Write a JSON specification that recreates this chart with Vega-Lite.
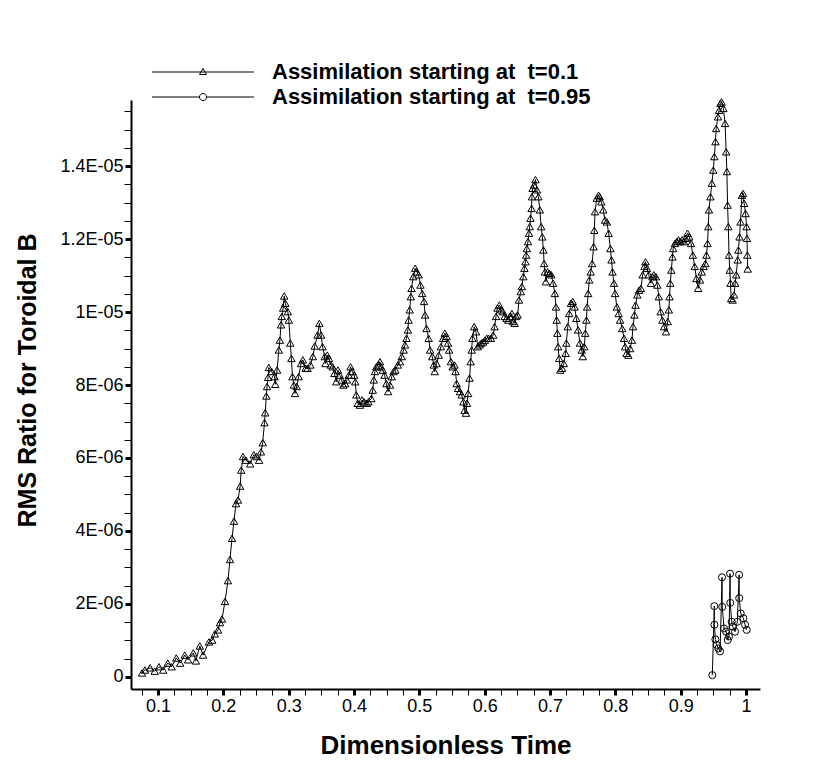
{
  "$schema": "https://vega.github.io/schema/vega-lite/v6.json",
  "width": 629,
  "height": 589,
  "autosize": {"type": "none"},
  "padding": {"left": 131, "top": 100, "right": 74, "bottom": 79},
  "background": "white",
  "config": {"view": {"stroke": null}, "font": "Liberation Sans"},
  "data": {
    "values": [
      {"t": 0.0755, "rms": 0.11e-6, "run": "0.1"},
      {"t": 0.0800, "rms": 0.19e-6, "run": "0.1"},
      {"t": 0.0880, "rms": 0.25e-6, "run": "0.1"},
      {"t": 0.0950, "rms": 0.16e-6, "run": "0.1"},
      {"t": 0.1015, "rms": 0.28e-6, "run": "0.1"},
      {"t": 0.1080, "rms": 0.19e-6, "run": "0.1"},
      {"t": 0.1150, "rms": 0.38e-6, "run": "0.1"},
      {"t": 0.1210, "rms": 0.28e-6, "run": "0.1"},
      {"t": 0.1280, "rms": 0.52e-6, "run": "0.1"},
      {"t": 0.1340, "rms": 0.38e-6, "run": "0.1"},
      {"t": 0.1410, "rms": 0.60e-6, "run": "0.1"},
      {"t": 0.1460, "rms": 0.47e-6, "run": "0.1"},
      {"t": 0.1540, "rms": 0.66e-6, "run": "0.1"},
      {"t": 0.1580, "rms": 0.44e-6, "run": "0.1"},
      {"t": 0.1640, "rms": 0.85e-6, "run": "0.1"},
      {"t": 0.1690, "rms": 0.60e-6, "run": "0.1"},
      {"t": 0.1780, "rms": 0.96e-6, "run": "0.1"},
      {"t": 0.1830, "rms": 1.01e-6, "run": "0.1"},
      {"t": 0.1870, "rms": 1.18e-6, "run": "0.1"},
      {"t": 0.1920, "rms": 1.29e-6, "run": "0.1"},
      {"t": 0.1950, "rms": 1.49e-6, "run": "0.1"},
      {"t": 0.1980, "rms": 1.59e-6, "run": "0.1"},
      {"t": 0.2026, "rms": 2.07e-6, "run": "0.1"},
      {"t": 0.2071, "rms": 2.64e-6, "run": "0.1"},
      {"t": 0.2102, "rms": 3.22e-6, "run": "0.1"},
      {"t": 0.2133, "rms": 3.80e-6, "run": "0.1"},
      {"t": 0.2163, "rms": 4.27e-6, "run": "0.1"},
      {"t": 0.2194, "rms": 4.75e-6, "run": "0.1"},
      {"t": 0.2225, "rms": 4.85e-6, "run": "0.1"},
      {"t": 0.2257, "rms": 5.23e-6, "run": "0.1"},
      {"t": 0.2274, "rms": 5.67e-6, "run": "0.1"},
      {"t": 0.2301, "rms": 6.04e-6, "run": "0.1"},
      {"t": 0.2345, "rms": 5.94e-6, "run": "0.1"},
      {"t": 0.2411, "rms": 5.84e-6, "run": "0.1"},
      {"t": 0.2466, "rms": 6.09e-6, "run": "0.1"},
      {"t": 0.2510, "rms": 6.04e-6, "run": "0.1"},
      {"t": 0.2548, "rms": 5.94e-6, "run": "0.1"},
      {"t": 0.2576, "rms": 6.17e-6, "run": "0.1"},
      {"t": 0.2603, "rms": 6.42e-6, "run": "0.1"},
      {"t": 0.2630, "rms": 6.97e-6, "run": "0.1"},
      {"t": 0.2641, "rms": 7.24e-6, "run": "0.1"},
      {"t": 0.2658, "rms": 7.70e-6, "run": "0.1"},
      {"t": 0.2669, "rms": 7.96e-6, "run": "0.1"},
      {"t": 0.2685, "rms": 8.21e-6, "run": "0.1"},
      {"t": 0.2696, "rms": 8.48e-6, "run": "0.1"},
      {"t": 0.2740, "rms": 8.37e-6, "run": "0.1"},
      {"t": 0.2784, "rms": 8.23e-6, "run": "0.1"},
      {"t": 0.2795, "rms": 8.02e-6, "run": "0.1"},
      {"t": 0.2823, "rms": 8.41e-6, "run": "0.1"},
      {"t": 0.2850, "rms": 8.96e-6, "run": "0.1"},
      {"t": 0.2866, "rms": 9.23e-6, "run": "0.1"},
      {"t": 0.2883, "rms": 9.65e-6, "run": "0.1"},
      {"t": 0.2894, "rms": 9.88e-6, "run": "0.1"},
      {"t": 0.2916, "rms": 10.11e-6, "run": "0.1"},
      {"t": 0.2932, "rms": 10.44e-6, "run": "0.1"},
      {"t": 0.2949, "rms": 10.24e-6, "run": "0.1"},
      {"t": 0.2987, "rms": 10.01e-6, "run": "0.1"},
      {"t": 0.3003, "rms": 9.78e-6, "run": "0.1"},
      {"t": 0.3025, "rms": 9.15e-6, "run": "0.1"},
      {"t": 0.3042, "rms": 8.73e-6, "run": "0.1"},
      {"t": 0.3058, "rms": 8.23e-6, "run": "0.1"},
      {"t": 0.3080, "rms": 8.00e-6, "run": "0.1"},
      {"t": 0.3097, "rms": 7.77e-6, "run": "0.1"},
      {"t": 0.3124, "rms": 7.96e-6, "run": "0.1"},
      {"t": 0.3152, "rms": 8.23e-6, "run": "0.1"},
      {"t": 0.3190, "rms": 8.59e-6, "run": "0.1"},
      {"t": 0.3217, "rms": 8.69e-6, "run": "0.1"},
      {"t": 0.3261, "rms": 8.46e-6, "run": "0.1"},
      {"t": 0.3289, "rms": 8.46e-6, "run": "0.1"},
      {"t": 0.3333, "rms": 8.55e-6, "run": "0.1"},
      {"t": 0.3371, "rms": 8.78e-6, "run": "0.1"},
      {"t": 0.3399, "rms": 9.07e-6, "run": "0.1"},
      {"t": 0.3442, "rms": 9.37e-6, "run": "0.1"},
      {"t": 0.3470, "rms": 9.69e-6, "run": "0.1"},
      {"t": 0.3497, "rms": 9.37e-6, "run": "0.1"},
      {"t": 0.3519, "rms": 9.05e-6, "run": "0.1"},
      {"t": 0.3552, "rms": 8.78e-6, "run": "0.1"},
      {"t": 0.3563, "rms": 8.59e-6, "run": "0.1"},
      {"t": 0.3591, "rms": 8.82e-6, "run": "0.1"},
      {"t": 0.3618, "rms": 8.73e-6, "run": "0.1"},
      {"t": 0.3645, "rms": 8.55e-6, "run": "0.1"},
      {"t": 0.3673, "rms": 8.50e-6, "run": "0.1"},
      {"t": 0.3700, "rms": 8.32e-6, "run": "0.1"},
      {"t": 0.3728, "rms": 8.09e-6, "run": "0.1"},
      {"t": 0.3755, "rms": 8.41e-6, "run": "0.1"},
      {"t": 0.3783, "rms": 8.27e-6, "run": "0.1"},
      {"t": 0.3810, "rms": 8.14e-6, "run": "0.1"},
      {"t": 0.3837, "rms": 8.00e-6, "run": "0.1"},
      {"t": 0.3865, "rms": 8.04e-6, "run": "0.1"},
      {"t": 0.3892, "rms": 8.14e-6, "run": "0.1"},
      {"t": 0.3920, "rms": 8.27e-6, "run": "0.1"},
      {"t": 0.3947, "rms": 8.50e-6, "run": "0.1"},
      {"t": 0.3975, "rms": 8.37e-6, "run": "0.1"},
      {"t": 0.4002, "rms": 8.27e-6, "run": "0.1"},
      {"t": 0.4019, "rms": 8.09e-6, "run": "0.1"},
      {"t": 0.4035, "rms": 7.73e-6, "run": "0.1"},
      {"t": 0.4057, "rms": 7.50e-6, "run": "0.1"},
      {"t": 0.4090, "rms": 7.45e-6, "run": "0.1"},
      {"t": 0.4123, "rms": 7.59e-6, "run": "0.1"},
      {"t": 0.4156, "rms": 7.54e-6, "run": "0.1"},
      {"t": 0.4194, "rms": 7.50e-6, "run": "0.1"},
      {"t": 0.4221, "rms": 7.54e-6, "run": "0.1"},
      {"t": 0.4265, "rms": 7.63e-6, "run": "0.1"},
      {"t": 0.4287, "rms": 7.86e-6, "run": "0.1"},
      {"t": 0.4304, "rms": 8.14e-6, "run": "0.1"},
      {"t": 0.4320, "rms": 8.37e-6, "run": "0.1"},
      {"t": 0.4342, "rms": 8.50e-6, "run": "0.1"},
      {"t": 0.4370, "rms": 8.55e-6, "run": "0.1"},
      {"t": 0.4397, "rms": 8.64e-6, "run": "0.1"},
      {"t": 0.4413, "rms": 8.50e-6, "run": "0.1"},
      {"t": 0.4441, "rms": 8.41e-6, "run": "0.1"},
      {"t": 0.4468, "rms": 8.27e-6, "run": "0.1"},
      {"t": 0.4496, "rms": 8.04e-6, "run": "0.1"},
      {"t": 0.4523, "rms": 7.82e-6, "run": "0.1"},
      {"t": 0.4551, "rms": 8.00e-6, "run": "0.1"},
      {"t": 0.4578, "rms": 8.23e-6, "run": "0.1"},
      {"t": 0.4605, "rms": 8.37e-6, "run": "0.1"},
      {"t": 0.4633, "rms": 8.41e-6, "run": "0.1"},
      {"t": 0.4671, "rms": 8.55e-6, "run": "0.1"},
      {"t": 0.4704, "rms": 8.64e-6, "run": "0.1"},
      {"t": 0.4731, "rms": 8.78e-6, "run": "0.1"},
      {"t": 0.4759, "rms": 8.96e-6, "run": "0.1"},
      {"t": 0.4781, "rms": 9.10e-6, "run": "0.1"},
      {"t": 0.4803, "rms": 9.28e-6, "run": "0.1"},
      {"t": 0.4825, "rms": 9.51e-6, "run": "0.1"},
      {"t": 0.4836, "rms": 9.78e-6, "run": "0.1"},
      {"t": 0.4852, "rms": 10.06e-6, "run": "0.1"},
      {"t": 0.4869, "rms": 10.42e-6, "run": "0.1"},
      {"t": 0.4880, "rms": 10.65e-6, "run": "0.1"},
      {"t": 0.4907, "rms": 10.97e-6, "run": "0.1"},
      {"t": 0.4935, "rms": 11.20e-6, "run": "0.1"},
      {"t": 0.4962, "rms": 11.10e-6, "run": "0.1"},
      {"t": 0.4989, "rms": 11.02e-6, "run": "0.1"},
      {"t": 0.5017, "rms": 10.74e-6, "run": "0.1"},
      {"t": 0.5044, "rms": 10.51e-6, "run": "0.1"},
      {"t": 0.5072, "rms": 10.29e-6, "run": "0.1"},
      {"t": 0.5088, "rms": 9.92e-6, "run": "0.1"},
      {"t": 0.5110, "rms": 9.55e-6, "run": "0.1"},
      {"t": 0.5143, "rms": 9.28e-6, "run": "0.1"},
      {"t": 0.5165, "rms": 8.96e-6, "run": "0.1"},
      {"t": 0.5198, "rms": 8.78e-6, "run": "0.1"},
      {"t": 0.5220, "rms": 8.55e-6, "run": "0.1"},
      {"t": 0.5236, "rms": 8.37e-6, "run": "0.1"},
      {"t": 0.5264, "rms": 8.59e-6, "run": "0.1"},
      {"t": 0.5297, "rms": 8.82e-6, "run": "0.1"},
      {"t": 0.5330, "rms": 9.05e-6, "run": "0.1"},
      {"t": 0.5363, "rms": 9.28e-6, "run": "0.1"},
      {"t": 0.5390, "rms": 9.42e-6, "run": "0.1"},
      {"t": 0.5417, "rms": 9.33e-6, "run": "0.1"},
      {"t": 0.5439, "rms": 9.15e-6, "run": "0.1"},
      {"t": 0.5456, "rms": 8.96e-6, "run": "0.1"},
      {"t": 0.5483, "rms": 8.64e-6, "run": "0.1"},
      {"t": 0.5510, "rms": 8.50e-6, "run": "0.1"},
      {"t": 0.5538, "rms": 8.55e-6, "run": "0.1"},
      {"t": 0.5554, "rms": 8.37e-6, "run": "0.1"},
      {"t": 0.5571, "rms": 8.04e-6, "run": "0.1"},
      {"t": 0.5593, "rms": 7.91e-6, "run": "0.1"},
      {"t": 0.5620, "rms": 7.82e-6, "run": "0.1"},
      {"t": 0.5648, "rms": 7.73e-6, "run": "0.1"},
      {"t": 0.5675, "rms": 7.54e-6, "run": "0.1"},
      {"t": 0.5692, "rms": 7.31e-6, "run": "0.1"},
      {"t": 0.5714, "rms": 7.23e-6, "run": "0.1"},
      {"t": 0.5730, "rms": 7.50e-6, "run": "0.1"},
      {"t": 0.5747, "rms": 7.77e-6, "run": "0.1"},
      {"t": 0.5769, "rms": 8.19e-6, "run": "0.1"},
      {"t": 0.5785, "rms": 8.64e-6, "run": "0.1"},
      {"t": 0.5801, "rms": 8.96e-6, "run": "0.1"},
      {"t": 0.5812, "rms": 9.28e-6, "run": "0.1"},
      {"t": 0.5840, "rms": 9.60e-6, "run": "0.1"},
      {"t": 0.5867, "rms": 9.46e-6, "run": "0.1"},
      {"t": 0.5894, "rms": 9.05e-6, "run": "0.1"},
      {"t": 0.5922, "rms": 9.10e-6, "run": "0.1"},
      {"t": 0.5949, "rms": 9.15e-6, "run": "0.1"},
      {"t": 0.5977, "rms": 9.18e-6, "run": "0.1"},
      {"t": 0.6004, "rms": 9.23e-6, "run": "0.1"},
      {"t": 0.6032, "rms": 9.28e-6, "run": "0.1"},
      {"t": 0.6059, "rms": 9.28e-6, "run": "0.1"},
      {"t": 0.6097, "rms": 9.28e-6, "run": "0.1"},
      {"t": 0.6130, "rms": 9.37e-6, "run": "0.1"},
      {"t": 0.6152, "rms": 9.60e-6, "run": "0.1"},
      {"t": 0.6174, "rms": 9.88e-6, "run": "0.1"},
      {"t": 0.6196, "rms": 10.11e-6, "run": "0.1"},
      {"t": 0.6224, "rms": 10.19e-6, "run": "0.1"},
      {"t": 0.6251, "rms": 10.06e-6, "run": "0.1"},
      {"t": 0.6279, "rms": 10.01e-6, "run": "0.1"},
      {"t": 0.6306, "rms": 9.88e-6, "run": "0.1"},
      {"t": 0.6334, "rms": 9.83e-6, "run": "0.1"},
      {"t": 0.6361, "rms": 9.78e-6, "run": "0.1"},
      {"t": 0.6388, "rms": 9.88e-6, "run": "0.1"},
      {"t": 0.6416, "rms": 9.96e-6, "run": "0.1"},
      {"t": 0.6432, "rms": 9.74e-6, "run": "0.1"},
      {"t": 0.6460, "rms": 9.69e-6, "run": "0.1"},
      {"t": 0.6482, "rms": 9.88e-6, "run": "0.1"},
      {"t": 0.6504, "rms": 9.92e-6, "run": "0.1"},
      {"t": 0.6526, "rms": 10.33e-6, "run": "0.1"},
      {"t": 0.6553, "rms": 10.56e-6, "run": "0.1"},
      {"t": 0.6569, "rms": 10.70e-6, "run": "0.1"},
      {"t": 0.6591, "rms": 10.97e-6, "run": "0.1"},
      {"t": 0.6608, "rms": 11.20e-6, "run": "0.1"},
      {"t": 0.6624, "rms": 11.38e-6, "run": "0.1"},
      {"t": 0.6635, "rms": 11.56e-6, "run": "0.1"},
      {"t": 0.6646, "rms": 11.74e-6, "run": "0.1"},
      {"t": 0.6663, "rms": 11.93e-6, "run": "0.1"},
      {"t": 0.6679, "rms": 12.16e-6, "run": "0.1"},
      {"t": 0.6690, "rms": 12.34e-6, "run": "0.1"},
      {"t": 0.6701, "rms": 12.57e-6, "run": "0.1"},
      {"t": 0.6718, "rms": 12.84e-6, "run": "0.1"},
      {"t": 0.6723, "rms": 13.16e-6, "run": "0.1"},
      {"t": 0.6734, "rms": 13.39e-6, "run": "0.1"},
      {"t": 0.6756, "rms": 13.48e-6, "run": "0.1"},
      {"t": 0.6778, "rms": 13.63e-6, "run": "0.1"},
      {"t": 0.6800, "rms": 13.35e-6, "run": "0.1"},
      {"t": 0.6822, "rms": 13.16e-6, "run": "0.1"},
      {"t": 0.6844, "rms": 12.80e-6, "run": "0.1"},
      {"t": 0.6865, "rms": 12.34e-6, "run": "0.1"},
      {"t": 0.6882, "rms": 12.06e-6, "run": "0.1"},
      {"t": 0.6899, "rms": 11.70e-6, "run": "0.1"},
      {"t": 0.6910, "rms": 11.33e-6, "run": "0.1"},
      {"t": 0.6921, "rms": 11.10e-6, "run": "0.1"},
      {"t": 0.6937, "rms": 10.83e-6, "run": "0.1"},
      {"t": 0.6965, "rms": 11.10e-6, "run": "0.1"},
      {"t": 0.6992, "rms": 11.06e-6, "run": "0.1"},
      {"t": 0.7020, "rms": 11.02e-6, "run": "0.1"},
      {"t": 0.7047, "rms": 10.79e-6, "run": "0.1"},
      {"t": 0.7074, "rms": 10.51e-6, "run": "0.1"},
      {"t": 0.7091, "rms": 10.14e-6, "run": "0.1"},
      {"t": 0.7102, "rms": 9.78e-6, "run": "0.1"},
      {"t": 0.7113, "rms": 9.42e-6, "run": "0.1"},
      {"t": 0.7124, "rms": 9.05e-6, "run": "0.1"},
      {"t": 0.7140, "rms": 8.73e-6, "run": "0.1"},
      {"t": 0.7157, "rms": 8.41e-6, "run": "0.1"},
      {"t": 0.7184, "rms": 8.46e-6, "run": "0.1"},
      {"t": 0.7211, "rms": 8.59e-6, "run": "0.1"},
      {"t": 0.7239, "rms": 8.87e-6, "run": "0.1"},
      {"t": 0.7250, "rms": 9.15e-6, "run": "0.1"},
      {"t": 0.7272, "rms": 9.60e-6, "run": "0.1"},
      {"t": 0.7294, "rms": 9.96e-6, "run": "0.1"},
      {"t": 0.7321, "rms": 10.24e-6, "run": "0.1"},
      {"t": 0.7348, "rms": 10.29e-6, "run": "0.1"},
      {"t": 0.7376, "rms": 10.14e-6, "run": "0.1"},
      {"t": 0.7403, "rms": 9.83e-6, "run": "0.1"},
      {"t": 0.7430, "rms": 9.51e-6, "run": "0.1"},
      {"t": 0.7458, "rms": 9.15e-6, "run": "0.1"},
      {"t": 0.7485, "rms": 8.96e-6, "run": "0.1"},
      {"t": 0.7502, "rms": 8.78e-6, "run": "0.1"},
      {"t": 0.7524, "rms": 9.05e-6, "run": "0.1"},
      {"t": 0.7540, "rms": 9.42e-6, "run": "0.1"},
      {"t": 0.7557, "rms": 9.78e-6, "run": "0.1"},
      {"t": 0.7568, "rms": 10.14e-6, "run": "0.1"},
      {"t": 0.7584, "rms": 10.51e-6, "run": "0.1"},
      {"t": 0.7601, "rms": 10.88e-6, "run": "0.1"},
      {"t": 0.7623, "rms": 11.10e-6, "run": "0.1"},
      {"t": 0.7645, "rms": 11.33e-6, "run": "0.1"},
      {"t": 0.7667, "rms": 11.79e-6, "run": "0.1"},
      {"t": 0.7678, "rms": 12.24e-6, "run": "0.1"},
      {"t": 0.7689, "rms": 12.75e-6, "run": "0.1"},
      {"t": 0.7716, "rms": 13.12e-6, "run": "0.1"},
      {"t": 0.7743, "rms": 13.20e-6, "run": "0.1"},
      {"t": 0.7760, "rms": 13.16e-6, "run": "0.1"},
      {"t": 0.7787, "rms": 13.02e-6, "run": "0.1"},
      {"t": 0.7815, "rms": 12.80e-6, "run": "0.1"},
      {"t": 0.7842, "rms": 12.52e-6, "run": "0.1"},
      {"t": 0.7870, "rms": 12.47e-6, "run": "0.1"},
      {"t": 0.7897, "rms": 12.16e-6, "run": "0.1"},
      {"t": 0.7924, "rms": 11.74e-6, "run": "0.1"},
      {"t": 0.7941, "rms": 11.43e-6, "run": "0.1"},
      {"t": 0.7957, "rms": 11.10e-6, "run": "0.1"},
      {"t": 0.7979, "rms": 10.79e-6, "run": "0.1"},
      {"t": 0.7996, "rms": 10.51e-6, "run": "0.1"},
      {"t": 0.8023, "rms": 10.14e-6, "run": "0.1"},
      {"t": 0.8051, "rms": 9.96e-6, "run": "0.1"},
      {"t": 0.8073, "rms": 9.78e-6, "run": "0.1"},
      {"t": 0.8105, "rms": 9.55e-6, "run": "0.1"},
      {"t": 0.8133, "rms": 9.28e-6, "run": "0.1"},
      {"t": 0.8149, "rms": 9.05e-6, "run": "0.1"},
      {"t": 0.8171, "rms": 8.87e-6, "run": "0.1"},
      {"t": 0.8199, "rms": 8.82e-6, "run": "0.1"},
      {"t": 0.8226, "rms": 9.00e-6, "run": "0.1"},
      {"t": 0.8254, "rms": 9.23e-6, "run": "0.1"},
      {"t": 0.8270, "rms": 9.60e-6, "run": "0.1"},
      {"t": 0.8292, "rms": 9.92e-6, "run": "0.1"},
      {"t": 0.8309, "rms": 10.19e-6, "run": "0.1"},
      {"t": 0.8336, "rms": 10.47e-6, "run": "0.1"},
      {"t": 0.8364, "rms": 10.60e-6, "run": "0.1"},
      {"t": 0.8391, "rms": 10.65e-6, "run": "0.1"},
      {"t": 0.8418, "rms": 11.02e-6, "run": "0.1"},
      {"t": 0.8446, "rms": 11.25e-6, "run": "0.1"},
      {"t": 0.8462, "rms": 11.38e-6, "run": "0.1"},
      {"t": 0.8484, "rms": 11.20e-6, "run": "0.1"},
      {"t": 0.8512, "rms": 11.02e-6, "run": "0.1"},
      {"t": 0.8545, "rms": 10.79e-6, "run": "0.1"},
      {"t": 0.8567, "rms": 10.97e-6, "run": "0.1"},
      {"t": 0.8588, "rms": 11.02e-6, "run": "0.1"},
      {"t": 0.8621, "rms": 10.97e-6, "run": "0.1"},
      {"t": 0.8643, "rms": 10.74e-6, "run": "0.1"},
      {"t": 0.8665, "rms": 10.42e-6, "run": "0.1"},
      {"t": 0.8693, "rms": 10.01e-6, "run": "0.1"},
      {"t": 0.8720, "rms": 9.78e-6, "run": "0.1"},
      {"t": 0.8747, "rms": 9.60e-6, "run": "0.1"},
      {"t": 0.8775, "rms": 9.46e-6, "run": "0.1"},
      {"t": 0.8802, "rms": 9.74e-6, "run": "0.1"},
      {"t": 0.8819, "rms": 10.06e-6, "run": "0.1"},
      {"t": 0.8830, "rms": 10.42e-6, "run": "0.1"},
      {"t": 0.8841, "rms": 10.79e-6, "run": "0.1"},
      {"t": 0.8857, "rms": 11.15e-6, "run": "0.1"},
      {"t": 0.8874, "rms": 11.51e-6, "run": "0.1"},
      {"t": 0.8885, "rms": 11.74e-6, "run": "0.1"},
      {"t": 0.8912, "rms": 11.88e-6, "run": "0.1"},
      {"t": 0.8939, "rms": 11.93e-6, "run": "0.1"},
      {"t": 0.8967, "rms": 11.98e-6, "run": "0.1"},
      {"t": 0.8994, "rms": 11.93e-6, "run": "0.1"},
      {"t": 0.9022, "rms": 11.98e-6, "run": "0.1"},
      {"t": 0.9049, "rms": 11.93e-6, "run": "0.1"},
      {"t": 0.9076, "rms": 12.02e-6, "run": "0.1"},
      {"t": 0.9104, "rms": 12.16e-6, "run": "0.1"},
      {"t": 0.9131, "rms": 12.06e-6, "run": "0.1"},
      {"t": 0.9159, "rms": 11.88e-6, "run": "0.1"},
      {"t": 0.9186, "rms": 11.56e-6, "run": "0.1"},
      {"t": 0.9214, "rms": 11.25e-6, "run": "0.1"},
      {"t": 0.9241, "rms": 10.92e-6, "run": "0.1"},
      {"t": 0.9268, "rms": 10.65e-6, "run": "0.1"},
      {"t": 0.9296, "rms": 10.88e-6, "run": "0.1"},
      {"t": 0.9323, "rms": 11.10e-6, "run": "0.1"},
      {"t": 0.9351, "rms": 11.25e-6, "run": "0.1"},
      {"t": 0.9378, "rms": 11.33e-6, "run": "0.1"},
      {"t": 0.9394, "rms": 11.56e-6, "run": "0.1"},
      {"t": 0.9411, "rms": 11.88e-6, "run": "0.1"},
      {"t": 0.9422, "rms": 12.34e-6, "run": "0.1"},
      {"t": 0.9433, "rms": 12.80e-6, "run": "0.1"},
      {"t": 0.9455, "rms": 13.16e-6, "run": "0.1"},
      {"t": 0.9477, "rms": 13.53e-6, "run": "0.1"},
      {"t": 0.9499, "rms": 13.89e-6, "run": "0.1"},
      {"t": 0.9515, "rms": 14.26e-6, "run": "0.1"},
      {"t": 0.9532, "rms": 14.67e-6, "run": "0.1"},
      {"t": 0.9543, "rms": 15.03e-6, "run": "0.1"},
      {"t": 0.9570, "rms": 15.35e-6, "run": "0.1"},
      {"t": 0.9587, "rms": 15.53e-6, "run": "0.1"},
      {"t": 0.9609, "rms": 15.72e-6, "run": "0.1"},
      {"t": 0.9625, "rms": 15.76e-6, "run": "0.1"},
      {"t": 0.9653, "rms": 15.58e-6, "run": "0.1"},
      {"t": 0.9680, "rms": 15.17e-6, "run": "0.1"},
      {"t": 0.9696, "rms": 14.39e-6, "run": "0.1"},
      {"t": 0.9707, "rms": 13.85e-6, "run": "0.1"},
      {"t": 0.9718, "rms": 12.93e-6, "run": "0.1"},
      {"t": 0.9729, "rms": 12.34e-6, "run": "0.1"},
      {"t": 0.9740, "rms": 11.56e-6, "run": "0.1"},
      {"t": 0.9751, "rms": 11.15e-6, "run": "0.1"},
      {"t": 0.9762, "rms": 10.79e-6, "run": "0.1"},
      {"t": 0.9773, "rms": 10.37e-6, "run": "0.1"},
      {"t": 0.9795, "rms": 10.33e-6, "run": "0.1"},
      {"t": 0.9817, "rms": 10.47e-6, "run": "0.1"},
      {"t": 0.9834, "rms": 10.79e-6, "run": "0.1"},
      {"t": 0.9850, "rms": 11.02e-6, "run": "0.1"},
      {"t": 0.9872, "rms": 11.43e-6, "run": "0.1"},
      {"t": 0.9883, "rms": 11.70e-6, "run": "0.1"},
      {"t": 0.9900, "rms": 12.06e-6, "run": "0.1"},
      {"t": 0.9916, "rms": 12.47e-6, "run": "0.1"},
      {"t": 0.9938, "rms": 13.20e-6, "run": "0.1"},
      {"t": 0.9954, "rms": 13.25e-6, "run": "0.1"},
      {"t": 0.9971, "rms": 12.98e-6, "run": "0.1"},
      {"t": 0.9993, "rms": 12.70e-6, "run": "0.1"},
      {"t": 1.0009, "rms": 12.34e-6, "run": "0.1"},
      {"t": 1.0015, "rms": 12.02e-6, "run": "0.1"},
      {"t": 1.0020, "rms": 11.56e-6, "run": "0.1"},
      {"t": 1.0026, "rms": 11.18e-6, "run": "0.1"},
      {"t": 0.9484, "rms": 0.05e-6, "run": "0.95"},
      {"t": 0.9515, "rms": 1.94e-6, "run": "0.95"},
      {"t": 0.9516, "rms": 1.43e-6, "run": "0.95"},
      {"t": 0.9531, "rms": 1.03e-6, "run": "0.95"},
      {"t": 0.9552, "rms": 0.88e-6, "run": "0.95"},
      {"t": 0.9577, "rms": 0.78e-6, "run": "0.95"},
      {"t": 0.9603, "rms": 0.70e-6, "run": "0.95"},
      {"t": 0.9633, "rms": 2.73e-6, "run": "0.95"},
      {"t": 0.9636, "rms": 1.92e-6, "run": "0.95"},
      {"t": 0.9664, "rms": 1.33e-6, "run": "0.95"},
      {"t": 0.9695, "rms": 1.24e-6, "run": "0.95"},
      {"t": 0.9720, "rms": 1.01e-6, "run": "0.95"},
      {"t": 0.9740, "rms": 1.11e-6, "run": "0.95"},
      {"t": 0.9756, "rms": 2.83e-6, "run": "0.95"},
      {"t": 0.9759, "rms": 2.03e-6, "run": "0.95"},
      {"t": 0.9781, "rms": 1.51e-6, "run": "0.95"},
      {"t": 0.9797, "rms": 1.38e-6, "run": "0.95"},
      {"t": 0.9832, "rms": 1.24e-6, "run": "0.95"},
      {"t": 0.9867, "rms": 1.51e-6, "run": "0.95"},
      {"t": 0.9894, "rms": 2.80e-6, "run": "0.95"},
      {"t": 0.9896, "rms": 2.16e-6, "run": "0.95"},
      {"t": 0.9919, "rms": 1.74e-6, "run": "0.95"},
      {"t": 0.9959, "rms": 1.61e-6, "run": "0.95"},
      {"t": 0.9985, "rms": 1.43e-6, "run": "0.95"},
      {"t": 1.0010, "rms": 1.29e-6, "run": "0.95"}
    ]
  },
  "encoding": {
    "x": {
      "field": "t",
      "type": "quantitative",
      "scale": {"domain": [0.0587, 1.0214], "nice": false, "zero": false},
      "axis": {
        "title": "Dimensionless Time",
        "values": [0.075, 0.1, 0.125, 0.15, 0.175, 0.2, 0.225, 0.25, 0.275, 0.3, 0.325, 0.35, 0.375, 0.4, 0.425, 0.45, 0.475, 0.5, 0.525, 0.55, 0.575, 0.6, 0.625, 0.65, 0.675, 0.7, 0.725, 0.75, 0.775, 0.8, 0.825, 0.85, 0.875, 0.9, 0.925, 0.95, 0.975, 1.0],
        "labelExpr": "abs(datum.value * 10 - round(datum.value * 10)) < 0.001 ? format(datum.value, '~g') : ''",
        "grid": false,
        "domainColor": "black",
        "domainWidth": 2,
        "tickColor": "black",
        "tickSize": 6,
        "tickWidth": {"condition": {"test": "abs(datum.value * 10 - round(datum.value * 10)) < 0.001", "value": 3}, "value": 1},
        "labelFont": "Liberation Sans",
        "labelFontSize": 18,
        "labelColor": "black",
        "labelPadding": 2,
        "labelFlush": false,
        "labelOverlap": false,
        "titleFont": "Liberation Sans",
        "titleFontSize": 26,
        "titleFontWeight": "bold",
        "titleColor": "black",
        "titleY": 64,
        "titleBaseline": "alphabetic"
      }
    },
    "y": {
      "field": "rms",
      "type": "quantitative",
      "scale": {"domain": [-0.33e-6, 15.81e-6], "nice": false, "zero": false},
      "axis": {
        "title": "RMS Ratio for Toroidal B",
        "values": [0, 0.5e-6, 1e-6, 1.5e-6, 2e-6, 2.5e-6, 3e-6, 3.5e-6, 4e-6, 4.5e-6, 5e-6, 5.5e-6, 6e-6, 6.5e-6, 7e-6, 7.5e-6, 8e-6, 8.5e-6, 9e-6, 9.5e-6, 10e-6, 10.5e-6, 11e-6, 11.5e-6, 12e-6, 12.5e-6, 13e-6, 13.5e-6, 14e-6, 14.5e-6, 15e-6, 15.5e-6],
        "labelExpr": "abs(datum.value * 5e5 - round(datum.value * 5e5)) > 0.01 ? '' : abs(datum.value) < 1e-9 ? '0' : datum.value < 9.5e-6 ? format(datum.value * 1e6, 'd') + 'E-06' : format(datum.value * 1e5, '.2~f') + 'E-05'",
        "grid": false,
        "domainColor": "black",
        "domainWidth": 2,
        "tickColor": "black",
        "tickSize": {"condition": {"test": "abs(datum.value * 5e5 - round(datum.value * 5e5)) < 0.01", "value": 6}, "value": 7},
        "tickWidth": {"condition": {"test": "abs(datum.value * 5e5 - round(datum.value * 5e5)) < 0.01", "value": 3}, "value": 1},
        "labelFont": "Liberation Sans",
        "labelFontSize": 18,
        "labelColor": "black",
        "labelPadding": 2,
        "labelFlush": false,
        "labelOverlap": false,
        "titleFont": "Liberation Sans",
        "titleFontSize": 25,
        "titleFontWeight": "bold",
        "titleColor": "black",
        "titleX": -104,
        "titleY": 280,
        "titleBaseline": "middle"
      }
    }
  },
  "layer": [
    {
      "mark": {"type": "line", "strokeWidth": 1},
      "encoding": {
        "stroke": {
          "field": "run",
          "type": "nominal",
          "scale": {"domain": ["0.1", "0.95"], "range": ["black", "black"]},
          "legend": {
            "orient": "none",
            "legendX": 61,
            "legendY": -39,
            "title": null,
            "symbolSize": 100,
            "symbolStrokeWidth": 1,
            "labelFont": "Liberation Sans",
            "labelFontSize": 22,
            "labelFontWeight": "bold",
            "labelColor": "black",
            "labelLimit": 0,
            "labelOffset": 58,
            "rowPadding": 3,
            "labelExpr": "'Assimilation starting at\u00a0 t=' + datum.label",
            "encode": {
              "symbols": {
                "update": {
                  "shape": {"signal": "datum.value === '0.1' ? 'M-10.2,0H10.2M0,-0.7L0.7,0.5L-0.7,0.5Z' : 'M-10.2,0H-0.7M0.7,0H10.2M0.7,0A0.7,0.7,0,1,1,-0.7,0A0.7,0.7,0,1,1,0.7,0Z'"},
                  "fill": {"value": "transparent"},
                  "stroke": {"value": "black"},
                  "strokeWidth": {"value": 1}
                }
              }
            }
          }
        }
      }
    },
    {
      "transform": [{"filter": "datum.run === '0.1'"}],
      "mark": {"type": "point", "shape": "triangle-up", "filled": false, "color": "black", "strokeWidth": 1, "opacity": 1, "size": 55}
    },
    {
      "transform": [{"filter": "datum.run === '0.95'"}],
      "mark": {"type": "point", "shape": "circle", "filled": false, "color": "black", "strokeWidth": 1, "opacity": 1, "size": 50}
    }
  ]
}
